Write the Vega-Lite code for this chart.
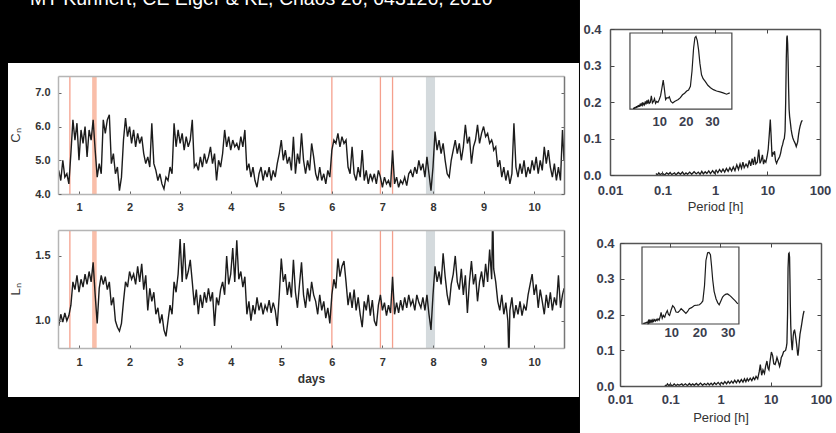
{
"$schema":"https://vega.github.io/schema/vega-lite/v6.json",
"autosize":{"type":"none"},
"padding":{"left":58,"top":29,"right":778,"bottom":404},
"background":"#000000",
"title":{"text":"MT Kuhnert, CE Elger & KL, Chaos 20, 043126, 2010","color":"#ffffff","font":"Liberation Sans","fontSize":19.5,"fontWeight":"normal","anchor":"start","frame":"group","baseline":"alphabetic","offset":-7,"dx":-28,"dy":18},
"bounds":"full",
"spacing":0,
"config":{"view":{"stroke":null},"axis":{"zindex":1,"grid":false,"labelFont":"Liberation Sans","titleFont":"Liberation Sans","labelOverlap":false,"labelFlush":false}},
"datasets":{
"one":[{}],
"inlab":[{"v":10},{"v":20},{"v":30}],
"bands":[{"t0":1.26,"t1":1.35,"k":"s"},{"t0":7.86,"t1":8.04,"k":"n"}],
"evt":[{"t":0.82},{"t":6.0},{"t":6.96},{"t":7.2}],
"ts":[
{"t":0.60,"c":4.7,"l":0.96},{"t":0.64,"c":4.4,"l":1.05},{"t":0.68,"c":5.0,"l":0.99},{"t":0.72,"c":4.5,"l":1.06},{"t":0.76,"c":4.6,"l":1.00},{"t":0.80,"c":4.3,"l":1.04},{"t":0.84,"c":5.2,"l":1.12},{"t":0.88,"c":6.2,"l":1.30},{"t":0.92,"c":5.6,"l":1.24},{"t":0.96,"c":6.1,"l":1.35},
{"t":1.00,"c":5.0,"l":1.22},{"t":1.04,"c":5.9,"l":1.32},{"t":1.08,"c":5.5,"l":1.26},{"t":1.12,"c":6.0,"l":1.36},{"t":1.16,"c":5.1,"l":1.28},{"t":1.20,"c":5.9,"l":1.38},{"t":1.24,"c":5.6,"l":1.30},{"t":1.28,"c":6.2,"l":1.45},{"t":1.32,"c":5.3,"l":1.20},{"t":1.36,"c":4.5,"l":0.98},
{"t":1.40,"c":4.9,"l":1.25},{"t":1.44,"c":4.6,"l":1.35},{"t":1.48,"c":6.2,"l":1.28},{"t":1.52,"c":5.8,"l":1.34},{"t":1.56,"c":6.2,"l":1.24},{"t":1.60,"c":6.35,"l":1.30},{"t":1.64,"c":4.9,"l":1.12},{"t":1.68,"c":5.2,"l":1.18},{"t":1.72,"c":4.6,"l":1.00},{"t":1.76,"c":4.8,"l":0.95},
{"t":1.80,"c":4.1,"l":0.92},{"t":1.84,"c":4.5,"l":0.98},{"t":1.88,"c":5.6,"l":1.15},{"t":1.92,"c":6.25,"l":1.30},{"t":1.96,"c":5.7,"l":1.26},{"t":2.00,"c":6.0,"l":1.38},{"t":2.04,"c":5.5,"l":1.32},{"t":2.08,"c":5.9,"l":1.36},{"t":2.12,"c":5.4,"l":1.28},{"t":2.16,"c":5.8,"l":1.42},
{"t":2.20,"c":5.5,"l":1.30},{"t":2.24,"c":5.7,"l":1.44},{"t":2.28,"c":5.2,"l":1.24},{"t":2.32,"c":4.9,"l":1.35},{"t":2.36,"c":5.1,"l":1.08},{"t":2.40,"c":4.8,"l":1.25},{"t":2.44,"c":6.1,"l":1.15},{"t":2.48,"c":4.9,"l":1.22},{"t":2.52,"c":4.7,"l":1.05},{"t":2.56,"c":4.4,"l":1.10},
{"t":2.60,"c":4.6,"l":0.98},{"t":2.64,"c":4.3,"l":1.05},{"t":2.68,"c":4.15,"l":0.93},{"t":2.72,"c":4.5,"l":0.88},{"t":2.76,"c":4.4,"l":1.00},{"t":2.80,"c":4.8,"l":1.12},{"t":2.84,"c":4.6,"l":1.05},{"t":2.88,"c":6.1,"l":1.30},{"t":2.92,"c":5.4,"l":1.22},{"t":2.96,"c":5.9,"l":1.36},
{"t":3.00,"c":5.5,"l":1.63},{"t":3.04,"c":5.8,"l":1.30},{"t":3.08,"c":5.3,"l":1.60},{"t":3.12,"c":5.7,"l":1.32},{"t":3.16,"c":5.4,"l":1.38},{"t":3.20,"c":5.6,"l":1.47},{"t":3.24,"c":6.2,"l":1.30},{"t":3.28,"c":4.8,"l":1.12},{"t":3.32,"c":4.9,"l":1.24},{"t":3.36,"c":4.7,"l":1.05},
{"t":3.40,"c":5.1,"l":1.20},{"t":3.44,"c":4.8,"l":1.10},{"t":3.48,"c":5.2,"l":1.22},{"t":3.52,"c":4.9,"l":1.14},{"t":3.56,"c":5.1,"l":1.25},{"t":3.60,"c":5.4,"l":1.15},{"t":3.64,"c":4.9,"l":1.22},{"t":3.68,"c":5.2,"l":0.96},{"t":3.72,"c":4.4,"l":1.18},{"t":3.76,"c":5.0,"l":1.12},
{"t":3.80,"c":4.8,"l":1.24},{"t":3.84,"c":5.2,"l":1.30},{"t":3.88,"c":5.9,"l":1.20},{"t":3.92,"c":5.4,"l":1.50},{"t":3.96,"c":5.7,"l":1.28},{"t":4.00,"c":5.3,"l":1.36},{"t":4.04,"c":5.6,"l":1.56},{"t":4.08,"c":5.4,"l":1.30},{"t":4.12,"c":5.5,"l":1.62},{"t":4.16,"c":5.3,"l":1.32},
{"t":4.20,"c":5.7,"l":1.38},{"t":4.24,"c":5.4,"l":1.26},{"t":4.28,"c":5.9,"l":1.34},{"t":4.32,"c":4.7,"l":1.05},{"t":4.36,"c":4.9,"l":1.15},{"t":4.40,"c":4.5,"l":1.00},{"t":4.44,"c":4.8,"l":1.12},{"t":4.48,"c":4.4,"l":1.05},{"t":4.52,"c":4.2,"l":1.18},{"t":4.56,"c":4.6,"l":1.08},
{"t":4.60,"c":4.8,"l":1.14},{"t":4.64,"c":4.4,"l":1.05},{"t":4.68,"c":4.7,"l":1.12},{"t":4.72,"c":4.5,"l":1.08},{"t":4.76,"c":4.8,"l":1.16},{"t":4.80,"c":4.4,"l":1.06},{"t":4.84,"c":4.7,"l":1.14},{"t":4.88,"c":4.5,"l":1.08},{"t":4.92,"c":4.9,"l":0.96},{"t":4.96,"c":5.2,"l":1.20},
{"t":5.00,"c":5.6,"l":1.48},{"t":5.04,"c":5.0,"l":1.30},{"t":5.08,"c":5.3,"l":1.36},{"t":5.12,"c":4.9,"l":1.20},{"t":5.16,"c":5.1,"l":1.30},{"t":5.20,"c":4.7,"l":1.18},{"t":5.24,"c":5.7,"l":1.47},{"t":5.28,"c":4.6,"l":1.22},{"t":5.32,"c":5.2,"l":1.10},{"t":5.36,"c":4.9,"l":1.28},
{"t":5.40,"c":5.8,"l":1.45},{"t":5.44,"c":5.0,"l":1.20},{"t":5.48,"c":4.6,"l":1.10},{"t":5.52,"c":5.0,"l":1.25},{"t":5.56,"c":4.7,"l":1.15},{"t":5.60,"c":5.5,"l":1.30},{"t":5.64,"c":5.1,"l":1.20},{"t":5.68,"c":4.6,"l":1.15},{"t":5.72,"c":4.4,"l":1.05},{"t":5.76,"c":4.8,"l":1.20},
{"t":5.80,"c":4.4,"l":1.08},{"t":5.84,"c":4.6,"l":1.15},{"t":5.88,"c":4.3,"l":1.02},{"t":5.92,"c":4.7,"l":1.10},{"t":5.96,"c":4.5,"l":0.98},{"t":6.00,"c":5.3,"l":1.20},{"t":6.04,"c":5.6,"l":1.32},{"t":6.08,"c":5.5,"l":1.25},{"t":6.12,"c":5.8,"l":1.48},{"t":6.16,"c":5.4,"l":1.34},
{"t":6.20,"c":5.7,"l":1.42},{"t":6.24,"c":5.5,"l":1.46},{"t":6.28,"c":5.6,"l":1.30},{"t":6.32,"c":4.8,"l":1.12},{"t":6.36,"c":4.6,"l":1.22},{"t":6.40,"c":5.4,"l":1.10},{"t":6.44,"c":4.6,"l":1.24},{"t":6.48,"c":4.4,"l":1.08},{"t":6.52,"c":4.8,"l":1.18},{"t":6.56,"c":4.5,"l":1.05},
{"t":6.60,"c":5.3,"l":0.95},{"t":6.64,"c":4.4,"l":1.15},{"t":6.68,"c":4.7,"l":1.08},{"t":6.72,"c":4.3,"l":1.20},{"t":6.76,"c":4.6,"l":1.04},{"t":6.80,"c":4.4,"l":1.16},{"t":6.84,"c":4.6,"l":1.00},{"t":6.88,"c":4.3,"l":0.96},{"t":6.92,"c":4.7,"l":1.12},{"t":6.96,"c":4.5,"l":1.20},
{"t":7.00,"c":4.2,"l":1.08},{"t":7.04,"c":4.5,"l":1.14},{"t":7.08,"c":4.3,"l":1.04},{"t":7.12,"c":4.4,"l":1.12},{"t":7.16,"c":4.2,"l":1.06},{"t":7.20,"c":5.3,"l":1.34},{"t":7.24,"c":4.3,"l":1.05},{"t":7.28,"c":4.5,"l":1.14},{"t":7.32,"c":4.2,"l":1.06},{"t":7.36,"c":4.4,"l":1.16},
{"t":7.40,"c":4.3,"l":1.08},{"t":7.44,"c":4.5,"l":1.18},{"t":7.48,"c":4.25,"l":1.10},{"t":7.52,"c":4.6,"l":1.20},{"t":7.56,"c":4.7,"l":1.12},{"t":7.60,"c":4.5,"l":1.16},{"t":7.64,"c":4.8,"l":1.08},{"t":7.68,"c":4.6,"l":1.20},{"t":7.72,"c":5.0,"l":1.14},{"t":7.76,"c":4.7,"l":1.10},
{"t":7.80,"c":4.9,"l":1.18},{"t":7.84,"c":4.5,"l":1.08},{"t":7.88,"c":5.1,"l":1.20},{"t":7.92,"c":4.6,"l":1.05},{"t":7.96,"c":4.1,"l":0.93},{"t":8.00,"c":4.8,"l":1.20},{"t":8.04,"c":5.85,"l":1.42},{"t":8.08,"c":5.3,"l":1.30},{"t":8.12,"c":5.6,"l":1.38},{"t":8.16,"c":5.2,"l":1.28},
{"t":8.20,"c":5.5,"l":1.52},{"t":8.24,"c":5.0,"l":1.34},{"t":8.28,"c":4.6,"l":1.20},{"t":8.32,"c":4.5,"l":1.12},{"t":8.36,"c":5.0,"l":1.28},{"t":8.40,"c":5.3,"l":1.36},{"t":8.44,"c":5.6,"l":1.50},{"t":8.48,"c":5.2,"l":1.30},{"t":8.52,"c":5.5,"l":1.24},{"t":8.56,"c":5.0,"l":1.40},
{"t":8.60,"c":5.4,"l":1.20},{"t":8.64,"c":6.05,"l":1.35},{"t":8.68,"c":5.5,"l":1.06},{"t":8.72,"c":5.7,"l":1.30},{"t":8.76,"c":4.9,"l":1.46},{"t":8.80,"c":5.4,"l":1.28},{"t":8.84,"c":5.6,"l":1.36},{"t":8.88,"c":6.05,"l":1.15},{"t":8.92,"c":5.5,"l":1.30},{"t":8.96,"c":5.8,"l":1.38},
{"t":9.00,"c":6.0,"l":1.26},{"t":9.04,"c":5.7,"l":1.44},{"t":9.08,"c":5.8,"l":1.30},{"t":9.12,"c":5.5,"l":1.55},{"t":9.16,"c":5.6,"l":1.32},{"t":9.18,"c":5.5,"l":1.85},{"t":9.20,"c":5.3,"l":1.40},{"t":9.24,"c":5.4,"l":1.30},{"t":9.28,"c":4.8,"l":1.15},{"t":9.32,"c":5.0,"l":1.08},
{"t":9.36,"c":4.5,"l":1.20},{"t":9.40,"c":4.8,"l":1.05},{"t":9.44,"c":4.4,"l":1.14},{"t":9.48,"c":4.7,"l":1.00},{"t":9.50,"c":4.5,"l":0.70},{"t":9.52,"c":4.3,"l":1.08},{"t":9.56,"c":4.6,"l":1.18},{"t":9.60,"c":6.1,"l":1.02},{"t":9.64,"c":4.8,"l":1.12},{"t":9.68,"c":4.5,"l":1.05},
{"t":9.72,"c":4.9,"l":1.15},{"t":9.76,"c":4.6,"l":1.04},{"t":9.80,"c":5.0,"l":1.12},{"t":9.84,"c":4.5,"l":1.08},{"t":9.88,"c":4.8,"l":1.20},{"t":9.92,"c":4.6,"l":1.28},{"t":9.96,"c":5.0,"l":1.36},{"t":10.00,"c":4.7,"l":1.20},{"t":10.04,"c":5.1,"l":1.28},{"t":10.08,"c":4.6,"l":1.10},
{"t":10.12,"c":5.0,"l":1.24},{"t":10.16,"c":4.7,"l":1.15},{"t":10.20,"c":5.4,"l":1.05},{"t":10.24,"c":4.9,"l":1.20},{"t":10.28,"c":5.3,"l":1.10},{"t":10.32,"c":4.8,"l":1.22},{"t":10.36,"c":4.5,"l":1.08},{"t":10.40,"c":4.9,"l":1.18},{"t":10.44,"c":4.4,"l":1.12},{"t":10.48,"c":4.8,"l":1.35},
{"t":10.52,"c":4.4,"l":1.10},{"t":10.56,"c":5.9,"l":1.20},{"t":10.59,"c":5.0,"l":1.25}
],
"p1":[
{"p":0.075,"w":0.004},{"p":0.08,"w":0.0},{"p":0.085,"w":0.006},{"p":0.09,"w":0.001},{"p":0.1,"w":0.005},{"p":0.11,"w":0.0},{"p":0.12,"w":0.006},{"p":0.13,"w":0.002},{"p":0.14,"w":0.007},{"p":0.15,"w":0.001},
{"p":0.17,"w":0.006},{"p":0.18,"w":0.0},{"p":0.2,"w":0.007},{"p":0.22,"w":0.002},{"p":0.24,"w":0.008},{"p":0.26,"w":0.001},{"p":0.28,"w":0.006},{"p":0.3,"w":0.002},{"p":0.33,"w":0.008},{"p":0.36,"w":0.002},
{"p":0.4,"w":0.009},{"p":0.44,"w":0.003},{"p":0.48,"w":0.008},{"p":0.52,"w":0.002},{"p":0.56,"w":0.01},{"p":0.6,"w":0.003},{"p":0.65,"w":0.009},{"p":0.7,"w":0.004},{"p":0.76,"w":0.011},{"p":0.82,"w":0.004},
{"p":0.9,"w":0.012},{"p":0.97,"w":0.005},{"p":1.05,"w":0.013},{"p":1.13,"w":0.006},{"p":1.22,"w":0.015},{"p":1.32,"w":0.008},{"p":1.42,"w":0.016},{"p":1.53,"w":0.008},{"p":1.65,"w":0.018},{"p":1.78,"w":0.01},
{"p":1.92,"w":0.02},{"p":2.07,"w":0.011},{"p":2.23,"w":0.022},{"p":2.4,"w":0.012},{"p":2.6,"w":0.028},{"p":2.8,"w":0.015},{"p":3.0,"w":0.03},{"p":3.2,"w":0.018},{"p":3.4,"w":0.035},{"p":3.6,"w":0.02},
{"p":3.9,"w":0.03},{"p":4.2,"w":0.022},{"p":4.5,"w":0.04},{"p":4.8,"w":0.025},{"p":5.1,"w":0.045},{"p":5.4,"w":0.028},{"p":5.7,"w":0.05},{"p":6.0,"w":0.03},{"p":6.4,"w":0.035},{"p":6.8,"w":0.07},
{"p":7.2,"w":0.032},{"p":7.6,"w":0.04},{"p":8.0,"w":0.055},{"p":8.4,"w":0.03},{"p":8.8,"w":0.04},{"p":9.3,"w":0.035},{"p":9.8,"w":0.05},{"p":10.3,"w":0.07},{"p":10.8,"w":0.11},{"p":11.3,"w":0.152},
{"p":11.7,"w":0.11},{"p":12.2,"w":0.05},{"p":12.7,"w":0.06},{"p":13.2,"w":0.058},{"p":13.6,"w":0.065},{"p":14.2,"w":0.04},{"p":14.9,"w":0.032},{"p":15.6,"w":0.04},{"p":16.3,"w":0.045},{"p":17.0,"w":0.05},
{"p":17.8,"w":0.06},{"p":18.6,"w":0.075},{"p":19.4,"w":0.083},{"p":20.2,"w":0.095},{"p":20.9,"w":0.1},{"p":21.6,"w":0.12},{"p":22.2,"w":0.2},{"p":22.8,"w":0.32},{"p":23.3,"w":0.375},{"p":23.7,"w":0.382},
{"p":24.2,"w":0.36},{"p":24.7,"w":0.31},{"p":25.2,"w":0.24},{"p":25.8,"w":0.18},{"p":26.4,"w":0.16},{"p":27.2,"w":0.145},{"p":28.2,"w":0.125},{"p":29.2,"w":0.112},{"p":30.3,"w":0.102},{"p":31.5,"w":0.095},
{"p":32.8,"w":0.09},{"p":34.0,"w":0.085},{"p":35.3,"w":0.078},{"p":36.5,"w":0.085},{"p":37.5,"w":0.09},{"p":39,"w":0.11},{"p":40.5,"w":0.125},{"p":42,"w":0.135},{"p":44,"w":0.145},{"p":46,"w":0.15}
],
"p2":[
{"p":0.078,"w":0.003},{"p":0.083,"w":0.0},{"p":0.088,"w":0.006},{"p":0.094,"w":0.001},{"p":0.1,"w":0.005},{"p":0.11,"w":0.0},{"p":0.12,"w":0.006},{"p":0.13,"w":0.001},{"p":0.14,"w":0.005},{"p":0.15,"w":0.002},
{"p":0.17,"w":0.006},{"p":0.18,"w":0.001},{"p":0.2,"w":0.006},{"p":0.22,"w":0.001},{"p":0.24,"w":0.007},{"p":0.26,"w":0.002},{"p":0.28,"w":0.006},{"p":0.3,"w":0.002},{"p":0.33,"w":0.007},{"p":0.36,"w":0.002},
{"p":0.4,"w":0.008},{"p":0.44,"w":0.002},{"p":0.48,"w":0.007},{"p":0.52,"w":0.003},{"p":0.56,"w":0.008},{"p":0.6,"w":0.003},{"p":0.65,"w":0.008},{"p":0.7,"w":0.003},{"p":0.76,"w":0.009},{"p":0.82,"w":0.004},
{"p":0.9,"w":0.01},{"p":0.97,"w":0.004},{"p":1.05,"w":0.01},{"p":1.13,"w":0.005},{"p":1.22,"w":0.012},{"p":1.32,"w":0.006},{"p":1.42,"w":0.013},{"p":1.53,"w":0.007},{"p":1.65,"w":0.014},{"p":1.78,"w":0.008},
{"p":1.92,"w":0.016},{"p":2.07,"w":0.009},{"p":2.23,"w":0.017},{"p":2.4,"w":0.01},{"p":2.6,"w":0.018},{"p":2.8,"w":0.011},{"p":3.0,"w":0.02},{"p":3.2,"w":0.012},{"p":3.4,"w":0.021},{"p":3.6,"w":0.014},
{"p":3.9,"w":0.022},{"p":4.2,"w":0.015},{"p":4.5,"w":0.024},{"p":4.8,"w":0.018},{"p":5.1,"w":0.027},{"p":5.5,"w":0.02},{"p":5.9,"w":0.04},{"p":6.2,"w":0.06},{"p":6.6,"w":0.03},{"p":7.0,"w":0.045},
{"p":7.5,"w":0.035},{"p":7.9,"w":0.055},{"p":8.4,"w":0.07},{"p":8.8,"w":0.05},{"p":9.2,"w":0.045},{"p":9.7,"w":0.07},{"p":10.3,"w":0.095},{"p":10.9,"w":0.085},{"p":11.5,"w":0.062},{"p":12.2,"w":0.06},
{"p":12.8,"w":0.07},{"p":13.3,"w":0.08},{"p":14.0,"w":0.07},{"p":15.0,"w":0.055},{"p":15.6,"w":0.065},{"p":16.2,"w":0.08},{"p":17.0,"w":0.085},{"p":18.0,"w":0.096},{"p":19.0,"w":0.098},{"p":19.8,"w":0.1},
{"p":20.5,"w":0.11},{"p":21.0,"w":0.12},{"p":21.6,"w":0.2},{"p":22.1,"w":0.33},{"p":22.7,"w":0.37},{"p":23.2,"w":0.372},{"p":23.7,"w":0.36},{"p":24.1,"w":0.3},{"p":24.5,"w":0.23},{"p":25.0,"w":0.17},
{"p":25.7,"w":0.13},{"p":26.3,"w":0.11},{"p":26.8,"w":0.1},{"p":27.4,"w":0.12},{"p":28.0,"w":0.14},{"p":28.6,"w":0.15},{"p":29.2,"w":0.155},{"p":29.8,"w":0.156},{"p":30.4,"w":0.15},{"p":31.0,"w":0.142},
{"p":31.6,"w":0.133},{"p":32.5,"w":0.12},{"p":33.4,"w":0.105},{"p":34.2,"w":0.09},{"p":34.8,"w":0.085},{"p":35.8,"w":0.1},{"p":37,"w":0.125},{"p":38.2,"w":0.145},{"p":39.3,"w":0.155},{"p":41,"w":0.17},
{"p":42.5,"w":0.185},{"p":44.3,"w":0.2},{"p":46,"w":0.21}
]
},
"hconcat":[
{"vconcat":[
 {"width":1,"height":11,"data":{"values":[]},"mark":"point","encoding":{}},
 {"width":506,"height":118,
  "layer":[
   {"data":{"name":"one"},"mark":{"type":"rect","color":"#ffffff","clip":false},
    "encoding":{
     "x":{"datum":-0.4035,"type":"quantitative","scale":{"domain":[0.585,10.59],"nice":false,"zero":false},"axis":{"orient":"top","labels":false,"ticks":false,"title":null,"domainColor":"#b5b5b5","domainWidth":1.5,"zindex":1}},
     "x2":{"datum":10.886},
     "y":{"datum":7.886,"type":"quantitative","scale":{"domain":[4,7.5],"nice":false,"zero":false},"axis":{"orient":"right","labels":false,"values":[4,5,6,7],"tickSize":-3,"tickColor":"#666","title":null,"domainColor":"#777","domainWidth":1.5,"zindex":1}},
     "y2":{"datum":-2.021}}},
   {"data":{"name":"bands"},"mark":{"type":"rect"},"encoding":{"x":{"field":"t0","type":"quantitative","axis":null},"x2":{"field":"t1"},"color":{"field":"k","type":"nominal","scale":{"domain":["s","n"],"range":["#f9bea9","#d4dadd"]},"legend":null}}},
   {"data":{"name":"evt"},"mark":{"type":"rule","color":"#f5a08d","strokeWidth":1.3},"encoding":{"x":{"field":"t","type":"quantitative","axis":null}}},
   {"data":{"name":"ts"},"mark":{"type":"line","color":"#1c1c1c","strokeWidth":1.4,"clip":true},
    "encoding":{
     "x":{"field":"t","type":"quantitative","scale":{"domain":[0.585,10.59],"nice":false,"zero":false},"axis":{"orient":"bottom","values":[1,2,3,4,5,6,7,8,9,10],"format":"d","title":null,"labelFontSize":11,"labelFontWeight":"bold","labelColor":"#333","labelPadding":10,"tickSize":-3,"tickColor":"#666","domainColor":"#b5b5b5","domainWidth":1.5,"zindex":1}},
     "y":{"field":"c","type":"quantitative","scale":{"domain":[4,7.5],"nice":false,"zero":false},"axis":{"orient":"left","values":[4,5,6,7],"format":".1f","title":"Cₙ","titleFontSize":13,"titleFontWeight":"normal","titleColor":"#333","titlePadding":12,"labelFontSize":11,"labelFontWeight":"bold","labelColor":"#333","labelPadding":11,"tickSize":-3,"tickColor":"#666","domainColor":"#b5b5b5","domainWidth":1.5,"zindex":1}}}}
  ]},
 {"width":506,"height":118,
  "layer":[
   {"data":{"name":"bands"},"mark":{"type":"rect"},"encoding":{"x":{"field":"t0","type":"quantitative","axis":null},"x2":{"field":"t1"},"color":{"field":"k","type":"nominal","scale":{"domain":["s","n"],"range":["#f9bea9","#d4dadd"]},"legend":null}}},
   {"data":{"name":"evt"},"mark":{"type":"rule","color":"#f5a08d","strokeWidth":1.3},"encoding":{"x":{"field":"t","type":"quantitative","axis":null}}},
   {"data":{"name":"one"},"mark":{"type":"point","opacity":0},
    "encoding":{
     "x":{"datum":5,"type":"quantitative","scale":{"domain":[0.585,10.59],"nice":false,"zero":false},"axis":{"orient":"top","labels":false,"ticks":false,"title":null,"domainColor":"#b5b5b5","domainWidth":1.5,"zindex":1}},
     "y":{"datum":1.2,"type":"quantitative","scale":{"domain":[0.79,1.7],"nice":false,"zero":false},"axis":{"orient":"right","labels":false,"values":[1,1.5],"tickSize":-3,"tickColor":"#666","title":null,"domainColor":"#777","domainWidth":1.5,"zindex":1}}}},
   {"data":{"name":"ts"},"mark":{"type":"line","color":"#1c1c1c","strokeWidth":1.4,"clip":true},
    "encoding":{
     "x":{"field":"t","type":"quantitative","scale":{"domain":[0.585,10.59],"nice":false,"zero":false},"axis":{"orient":"bottom","values":[1,2,3,4,5,6,7,8,9,10],"format":"d","title":"days","titleFontSize":12,"titleFontWeight":"bold","titleColor":"#333","titlePadding":6,"labelFontSize":11,"labelFontWeight":"bold","labelColor":"#333","labelPadding":11,"tickSize":-3,"tickColor":"#666","domainColor":"#b5b5b5","domainWidth":1.5,"zindex":1}},
     "y":{"field":"l","type":"quantitative","scale":{"domain":[0.79,1.7],"nice":false,"zero":false},"axis":{"orient":"left","values":[1,1.5],"format":".1f","title":"Lₙ","titleFontSize":13,"titleFontWeight":"normal","titleColor":"#333","titlePadding":12,"labelFontSize":11,"labelFontWeight":"bold","labelColor":"#333","labelPadding":11,"tickSize":-3,"tickColor":"#666","domainColor":"#b5b5b5","domainWidth":1.5,"zindex":1}}}}
  ]}
 ],
 "spacing":36,"bounds":"flush"},
{"vconcat":[
 {"width":210,"height":146,
  "resolve":{"scale":{"x":"independent","y":"independent"},"axis":{"x":"independent","y":"independent"}},
  "layer":[
   {"layer":[
    {"data":{"name":"one"},"mark":{"type":"rect","color":"#ffffff","clip":false},
     "encoding":{
      "x":{"datum":0.00268,"type":"quantitative","scale":{"type":"log","domain":[0.01,100],"nice":false},"axis":{"orient":"top","labels":false,"values":[0.01,0.1,1,10,100],"tickSize":-4,"tickColor":"#444","title":null,"domainColor":"#555","domainWidth":1.5,"zindex":1}},
      "x2":{"datum":300},
      "y":{"datum":0.4795,"type":"quantitative","scale":{"domain":[0,0.4],"nice":false,"zero":false},"axis":{"orient":"right","labels":false,"values":[0.1,0.2,0.3],"tickSize":-4,"tickColor":"#444","title":null,"domainColor":"#555","domainWidth":1.5,"zindex":1}},
      "y2":{"datum":-0.75}}},
    {"data":{"name":"p1"},"mark":{"type":"line","color":"#1c1c1c","strokeWidth":1.3},
     "encoding":{
      "x":{"field":"p","type":"quantitative","scale":{"type":"log","domain":[0.01,100],"nice":false},"axis":{"orient":"bottom","values":[0.01,0.1,1,10,100],"format":"~g","title":"Period [h]","titleFontSize":13,"titleFontWeight":"normal","titleColor":"#333","titlePadding":3,"labelFontSize":13,"labelFontWeight":"bold","labelColor":"#3a3d4d","labelPadding":13,"tickSize":-4,"tickColor":"#444","domainColor":"#555","domainWidth":1.5,"zindex":1}},
      "y":{"field":"w","type":"quantitative","scale":{"domain":[0,0.4],"nice":false,"zero":false},"axis":{"orient":"left","values":[0,0.1,0.2,0.3,0.4],"format":".1f","title":null,"labelFontSize":13,"labelFontWeight":"bold","labelColor":"#3a3d4d","labelPadding":13,"tickSize":-4,"tickColor":"#444","domainColor":"#555","domainWidth":1.5,"zindex":1}}}}
   ]},
   {"layer":[
    {"data":{"name":"one"},"mark":{"type":"rect","fill":"#ffffff","stroke":"#444","strokeWidth":1.2},
     "encoding":{
      "x":{"datum":-1.3,"type":"quantitative","scale":{"domain":[-8.86,70.68],"nice":false,"zero":false},"axis":null},
      "x2":{"datum":37.3},
      "y":{"datum":0,"type":"quantitative","scale":{"domain":[-0.347,0.421],"nice":false,"zero":false},"axis":{"orient":"left","offset":-20,"values":[0.1,0.2,0.3],"labels":false,"tickSize":-3,"tickColor":"#444","domain":false,"title":null,"zindex":1}},
      "y2":{"datum":0.4}}},
    {"data":{"name":"p1"},"transform":[{"filter":"datum.p <= 37.3"}],"mark":{"type":"line","color":"#1c1c1c","strokeWidth":1.2},
     "encoding":{"x":{"field":"p","type":"quantitative","axis":null},"y":{"field":"w","type":"quantitative","axis":null}}},
    {"data":{"name":"inlab"},"mark":{"type":"text","font":"Liberation Sans","fontSize":13,"fontWeight":"bold","color":"#3a3d4d","baseline":"top","align":"center"},
     "encoding":{"x":{"field":"v","type":"quantitative","axis":null},"y":{"datum":-0.037,"type":"quantitative","axis":null},"text":{"field":"v","type":"quantitative"}}}
   ]}
  ]},
 {"hconcat":[
  {"width":1,"height":1,"data":{"values":[]},"mark":"point","encoding":{}},
  {"width":201,"height":143,
   "resolve":{"scale":{"x":"independent","y":"independent"},"axis":{"x":"independent","y":"independent"}},
   "layer":[
    {"layer":[
     {"data":{"name":"one"},"mark":{"type":"point","opacity":0},
      "encoding":{
       "x":{"datum":1,"type":"quantitative","scale":{"type":"log","domain":[0.01,100],"nice":false},"axis":{"orient":"top","labels":false,"values":[0.01,0.1,1,10,100],"tickSize":-4,"tickColor":"#444","title":null,"domainColor":"#555","domainWidth":1.5,"zindex":1}},
       "y":{"datum":0.2,"type":"quantitative","scale":{"domain":[0,0.4],"nice":false,"zero":false},"axis":{"orient":"right","labels":false,"values":[0.1,0.2,0.3],"tickSize":-4,"tickColor":"#444","title":null,"domainColor":"#555","domainWidth":1.5,"zindex":1}}}},
     {"data":{"name":"p2"},"mark":{"type":"line","color":"#1c1c1c","strokeWidth":1.3},
      "encoding":{
       "x":{"field":"p","type":"quantitative","scale":{"type":"log","domain":[0.01,100],"nice":false},"axis":{"orient":"bottom","values":[0.01,0.1,1,10,100],"format":"~g","title":"Period [h]","titleFontSize":13,"titleFontWeight":"normal","titleColor":"#333","titlePadding":5,"labelFontSize":13,"labelFontWeight":"bold","labelColor":"#3a3d4d","labelPadding":11,"tickSize":-4,"tickColor":"#444","domainColor":"#555","domainWidth":1.5,"zindex":1}},
       "y":{"field":"w","type":"quantitative","scale":{"domain":[0,0.4],"nice":false,"zero":false},"axis":{"orient":"left","values":[0,0.1,0.2,0.3,0.4],"format":".1f","title":null,"labelFontSize":13,"labelFontWeight":"bold","labelColor":"#3a3d4d","labelPadding":10,"tickSize":-4,"tickColor":"#444","domainColor":"#555","domainWidth":1.5,"zindex":1}}}}
    ]},
    {"layer":[
     {"data":{"name":"one"},"mark":{"type":"rect","fill":"#ffffff","stroke":"#444","strokeWidth":1.2},
      "encoding":{
       "x":{"datum":-0.57,"type":"quantitative","scale":{"domain":[-8.37,62.9],"nice":false,"zero":false},"axis":null},
       "x2":{"datum":33.8},
       "y":{"datum":0,"type":"quantitative","scale":{"domain":[-0.322,0.4208],"nice":false,"zero":false},"axis":{"orient":"left","offset":-22,"values":[0.1,0.2,0.3],"labels":false,"tickSize":-3,"tickColor":"#444","domain":false,"title":null,"zindex":1}},
       "y2":{"datum":0.4}}},
     {"data":{"name":"p2"},"transform":[{"filter":"datum.p <= 33.8"}],"mark":{"type":"line","color":"#1c1c1c","strokeWidth":1.2},
      "encoding":{"x":{"field":"p","type":"quantitative","axis":null},"y":{"field":"w","type":"quantitative","axis":null}}},
     {"data":{"name":"inlab"},"mark":{"type":"text","font":"Liberation Sans","fontSize":13,"fontWeight":"bold","color":"#3a3d4d","baseline":"top","align":"center"},
      "encoding":{"x":{"field":"v","type":"quantitative","axis":null},"y":{"datum":-0.016,"type":"quantitative","axis":null},"text":{"field":"v","type":"quantitative"}}}
    ]}
   ]}
  ],
  "spacing":9,"bounds":"flush"}
 ],
 "spacing":68,"bounds":"flush"}
]
}
